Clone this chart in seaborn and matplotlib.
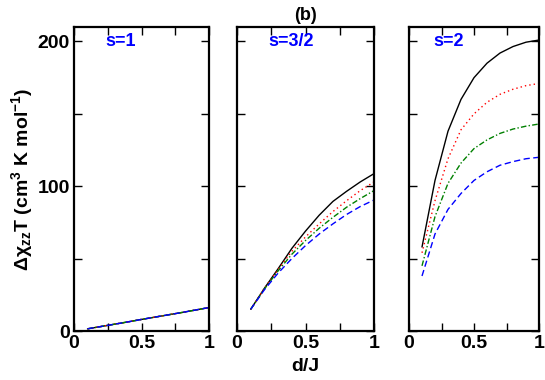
import matplotlib
matplotlib.use("Agg")
import matplotlib.pyplot as plt
import seaborn as sns
import pandas as pd
from matplotlib.ticker import MultipleLocator

sns.set_style("ticks")
plt.rcParams['font.family'] = ['Liberation Sans', 'DejaVu Sans']
plt.rcParams['font.weight'] = 'bold'
plt.rcParams['mathtext.fontset'] = 'custom'
plt.rcParams['mathtext.rm'] = 'Liberation Sans:bold'
plt.rcParams['mathtext.it'] = 'Liberation Sans:bold'
plt.rcParams['mathtext.bf'] = 'Liberation Sans:bold'
plt.rcParams['mathtext.default'] = 'rm'
for key in ['text.color', 'axes.labelcolor', 'xtick.color', 'ytick.color',
            'axes.edgecolor']:
    plt.rcParams[key] = 'black'

# ---- data ----
x_vals = [0.1, 0.2, 0.3, 0.4, 0.5, 0.6, 0.7, 0.8, 0.9, 1.0]
series_names = ["a", "b", "c", "d"]
panel_labels = ["s=1", "s=3/2", "s=2"]

s1_a = [1.5, 3.1, 4.7, 6.3, 8.0, 9.6, 11.2, 12.8, 14.5, 16.2]
s1_b = [1.5, 3.1, 4.7, 6.3, 8.0, 9.6, 11.2, 12.8, 14.5, 16.2]
s1_c = [1.5, 3.1, 4.7, 6.3, 8.0, 9.6, 11.2, 12.8, 14.5, 16.2]
s1_d = [1.5, 3.1, 4.7, 6.3, 8.0, 9.6, 11.2, 12.8, 14.5, 16.2]

s32_a = [15, 29.5, 43, 57, 69, 80, 89.5, 96.5, 103, 108.7]
s32_b = [15, 29.5, 42.5, 55, 65, 74, 82.5, 90, 97, 103]
s32_c = [15, 29, 41.5, 53, 62.5, 71, 78.5, 85.5, 91.5, 97]
s32_d = [15, 28.5, 40, 50, 59, 67, 74, 80.5, 86, 90.5]

s2_a = [58, 104, 138, 160, 175, 185, 192, 196.5, 199.5, 201]
s2_b = [54, 90, 119, 139, 150, 158, 163.5, 167, 169.5, 171]
s2_c = [45, 79, 102, 116, 126, 132, 136.5, 139.5, 141.5, 143]
s2_d = [38, 67, 84, 95, 104, 110, 114.5, 117, 119, 120]

panels = [
    [s1_a, s1_b, s1_c, s1_d],
    [s32_a, s32_b, s32_c, s32_d],
    [s2_a, s2_b, s2_c, s2_d],
]

colors = {"a": "black", "b": "#ff0000", "c": "#008000", "d": "#0000ff"}
styles = {"a": "-", "b": (0, (1, 2.2)), "c": (0, (4, 1.6, 1, 1.6)), "d": (0, (4.5, 2.5))}
label_x = [0.23, 0.23, 0.185]

fig = plt.figure(figsize=(5.45, 3.8), dpi=100)
positions = [
    [74 / 545, 49 / 380, 135 / 545, 304 / 380],
    [237 / 545, 49 / 380, 137 / 545, 304 / 380],
    [409 / 545, 49 / 380, 130 / 545, 304 / 380],
]

for i, (pos, series) in enumerate(zip(positions, panels)):
    ax = fig.add_axes(pos)
    rows = []
    for name, vals in zip(series_names, series):
        for xv, yv in zip(x_vals, vals):
            rows.append({"x": xv, "y": yv, "s": name})
    df = pd.DataFrame(rows)
    for name in series_names:
        sub = df[df["s"] == name]
        sns.lineplot(data=sub, x="x", y="y", ax=ax, color=colors[name],
                     linestyle=styles[name], linewidth=1.0, legend=False)
    ax.set_xlim(0, 1)
    ax.set_ylim(0, 210)
    ax.xaxis.set_major_locator(MultipleLocator(0.5))
    ax.xaxis.set_minor_locator(MultipleLocator(0.25))
    ax.yaxis.set_major_locator(MultipleLocator(100))
    ax.yaxis.set_minor_locator(MultipleLocator(50))
    ax.set_xticks([0, 0.5, 1])
    ax.set_xticklabels(["0", "0.5", "1"])
    ax.tick_params(which="both", direction="in", top=True, right=True,
                   length=5.5, width=1.0, labelsize=14, colors="black")
    ax.tick_params(which="major", pad=3)
    for lab in ax.get_xticklabels() + ax.get_yticklabels():
        lab.set_fontweight("bold")
    for sp in ax.spines.values():
        sp.set_linewidth(1.6)
        sp.set_color("black")
        sp.set_visible(True)
    ax.set_xlabel("")
    ax.set_ylabel("")
    if i > 0:
        ax.set_yticklabels([])
    ax.text(label_x[i], 200, panel_labels[i], color="#0000ff", fontsize=13,
            fontweight="bold", ha="left", va="center")
    if i == 1:
        ax.set_title("(b)", fontsize=13, fontweight="bold", pad=5, color="black")
        ax.set_xlabel("d/J", fontsize=14, fontweight="bold", labelpad=4, color="black")
    if i == 0:
        ax.set_ylabel("Δχ$_{zz}$T (cm$^{3}$ K mol$^{-1}$)", fontsize=14,
                      fontweight="bold", labelpad=2, color="black")

fig.savefig("out.png", dpi=100)
